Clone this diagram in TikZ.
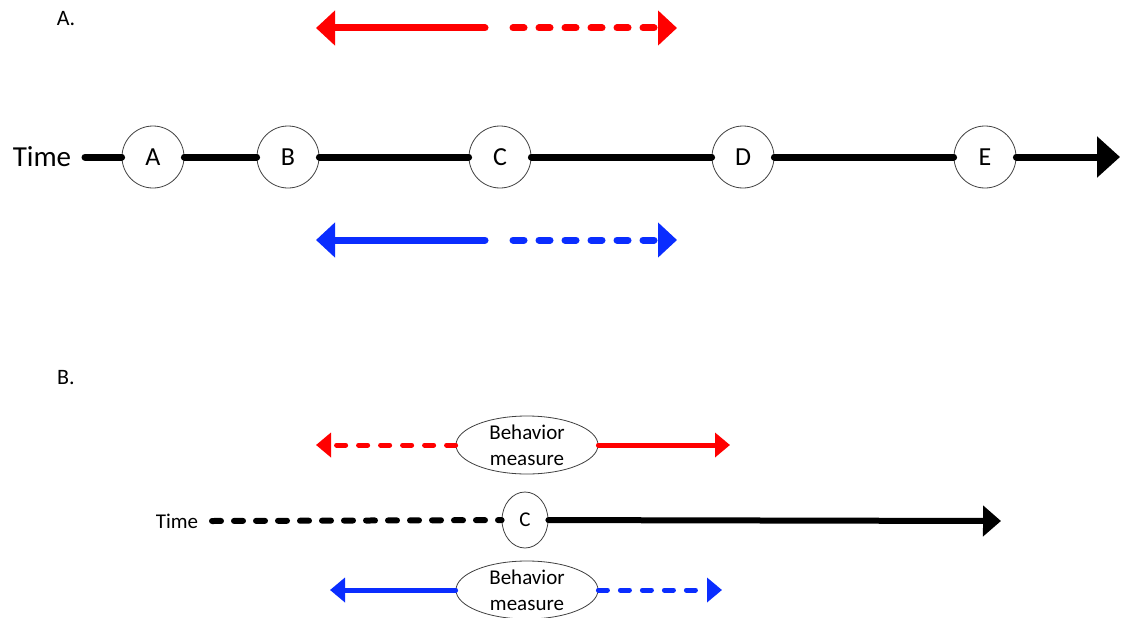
\documentclass[tikz,border=0pt]{standalone}
\usepackage{fontspec}
\setmainfont{Carlito}
\usepackage{xcolor}
\usetikzlibrary{arrows.meta,shapes.geometric}
\definecolor{tred}{RGB}{255,0,0}
\definecolor{tblue}{RGB}{10,45,255}

\begin{document}
\begin{tikzpicture}[x=1pt,y=-1pt,
    evt/.style={shape=circle, draw=black!75, line width=0.8pt, fill=white, minimum size=62pt, inner sep=0pt, font=\fontsize{26}{30}\selectfont},
    meas/.style={shape=ellipse, draw=black!75, line width=0.8pt, fill=white, minimum width=142pt, minimum height=58pt, inner sep=0pt, align=center, font=\fontsize{21}{26}\selectfont},
    big/.style={line width=7pt, line cap=round},
    small/.style={line width=5pt, line cap=round},
    bigdash/.style={big, dash pattern=on 11pt off 15pt},
    smalldash/.style={small, dash pattern=on 9pt off 13pt},
    bigtip/.style={-{Triangle[length=19pt,width=34pt]}},
    smalltip/.style={-{Triangle[length=15pt,width=24pt]}}]
    \useasboundingbox (0,0) rectangle (1121,618);

    % panel A
    \node[font=\fontsize{22}{26}\selectfont] (la) at (66,19) {A.};
    \node[font=\fontsize{29}{33}\selectfont] (timea) at (42,157) {Time};
    \coordinate (t0) at (85,157);
    \coordinate (t1) at (1120,157);
    \node[evt] (A) at (153,157) {A};
    \node[evt] (B) at (288,157) {B};
    \node[evt] (C) at (500,157) {C};
    \node[evt] (D) at (743,157) {D};
    \node[evt] (E) at (985,157) {E};
    \draw[big] (t0) -- (A);
    \draw[big] (A) -- (B);
    \draw[big] (B) -- (C);
    \draw[big] (C) -- (D);
    \draw[big] (D) -- (E);
    \draw[big, -{Triangle[length=23pt,width=40pt]}] (E) -- (t1);

    \coordinate (ra1) at (316,28);
    \coordinate (ra2) at (485,28);
    \coordinate (ra3) at (513,28);
    \coordinate (ra4) at (677,28);
    \draw[big, tred, bigtip] (ra2) -- (ra1);
    \draw[bigdash, tred, bigtip] (ra3) -- (ra4);

    \coordinate (ba1) at (316,240);
    \coordinate (ba2) at (485,240);
    \coordinate (ba3) at (513,240);
    \coordinate (ba4) at (677,240);
    \draw[big, tblue, bigtip] (ba2) -- (ba1);
    \draw[bigdash, tblue, bigtip] (ba3) -- (ba4);

    % panel B
    \node[font=\fontsize{22}{26}\selectfont] (lb) at (66,378) {B.};
    \node[meas] (m1) at (527,445) {Behavior\\measure};
    \node[meas] (m2) at (527,590) {Behavior\\measure};
    \coordinate (rb1) at (316,445);
    \coordinate (rb2) at (730,445);
    \draw[smalldash, tred, smalltip] (m1) -- (rb1);
    \draw[small, tred, smalltip] (m1) -- (rb2);
    \coordinate (bb1) at (330,590);
    \coordinate (bb2) at (722,590);
    \draw[small, tblue, smalltip] (m2) -- (bb1);
    \draw[smalldash, tblue, smalltip] (m2) -- (bb2);

    \node[font=\fontsize{21}{24}\selectfont] (timeb) at (177,521) {Time};
    \coordinate (tb0) at (212,521);
    \coordinate (tb1) at (1001,521);
    \node[evt, shape=ellipse, minimum width=46pt, minimum height=56pt, font=\fontsize{21}{24}\selectfont] (Cb) at (525,520) {C};
    \draw[smalldash, line width=6pt] (tb0) -- (Cb);
    \draw[small, line width=6pt, -{Triangle[length=18pt,width=30pt]}] (Cb) -- (tb1);
\end{tikzpicture}
\end{document}
